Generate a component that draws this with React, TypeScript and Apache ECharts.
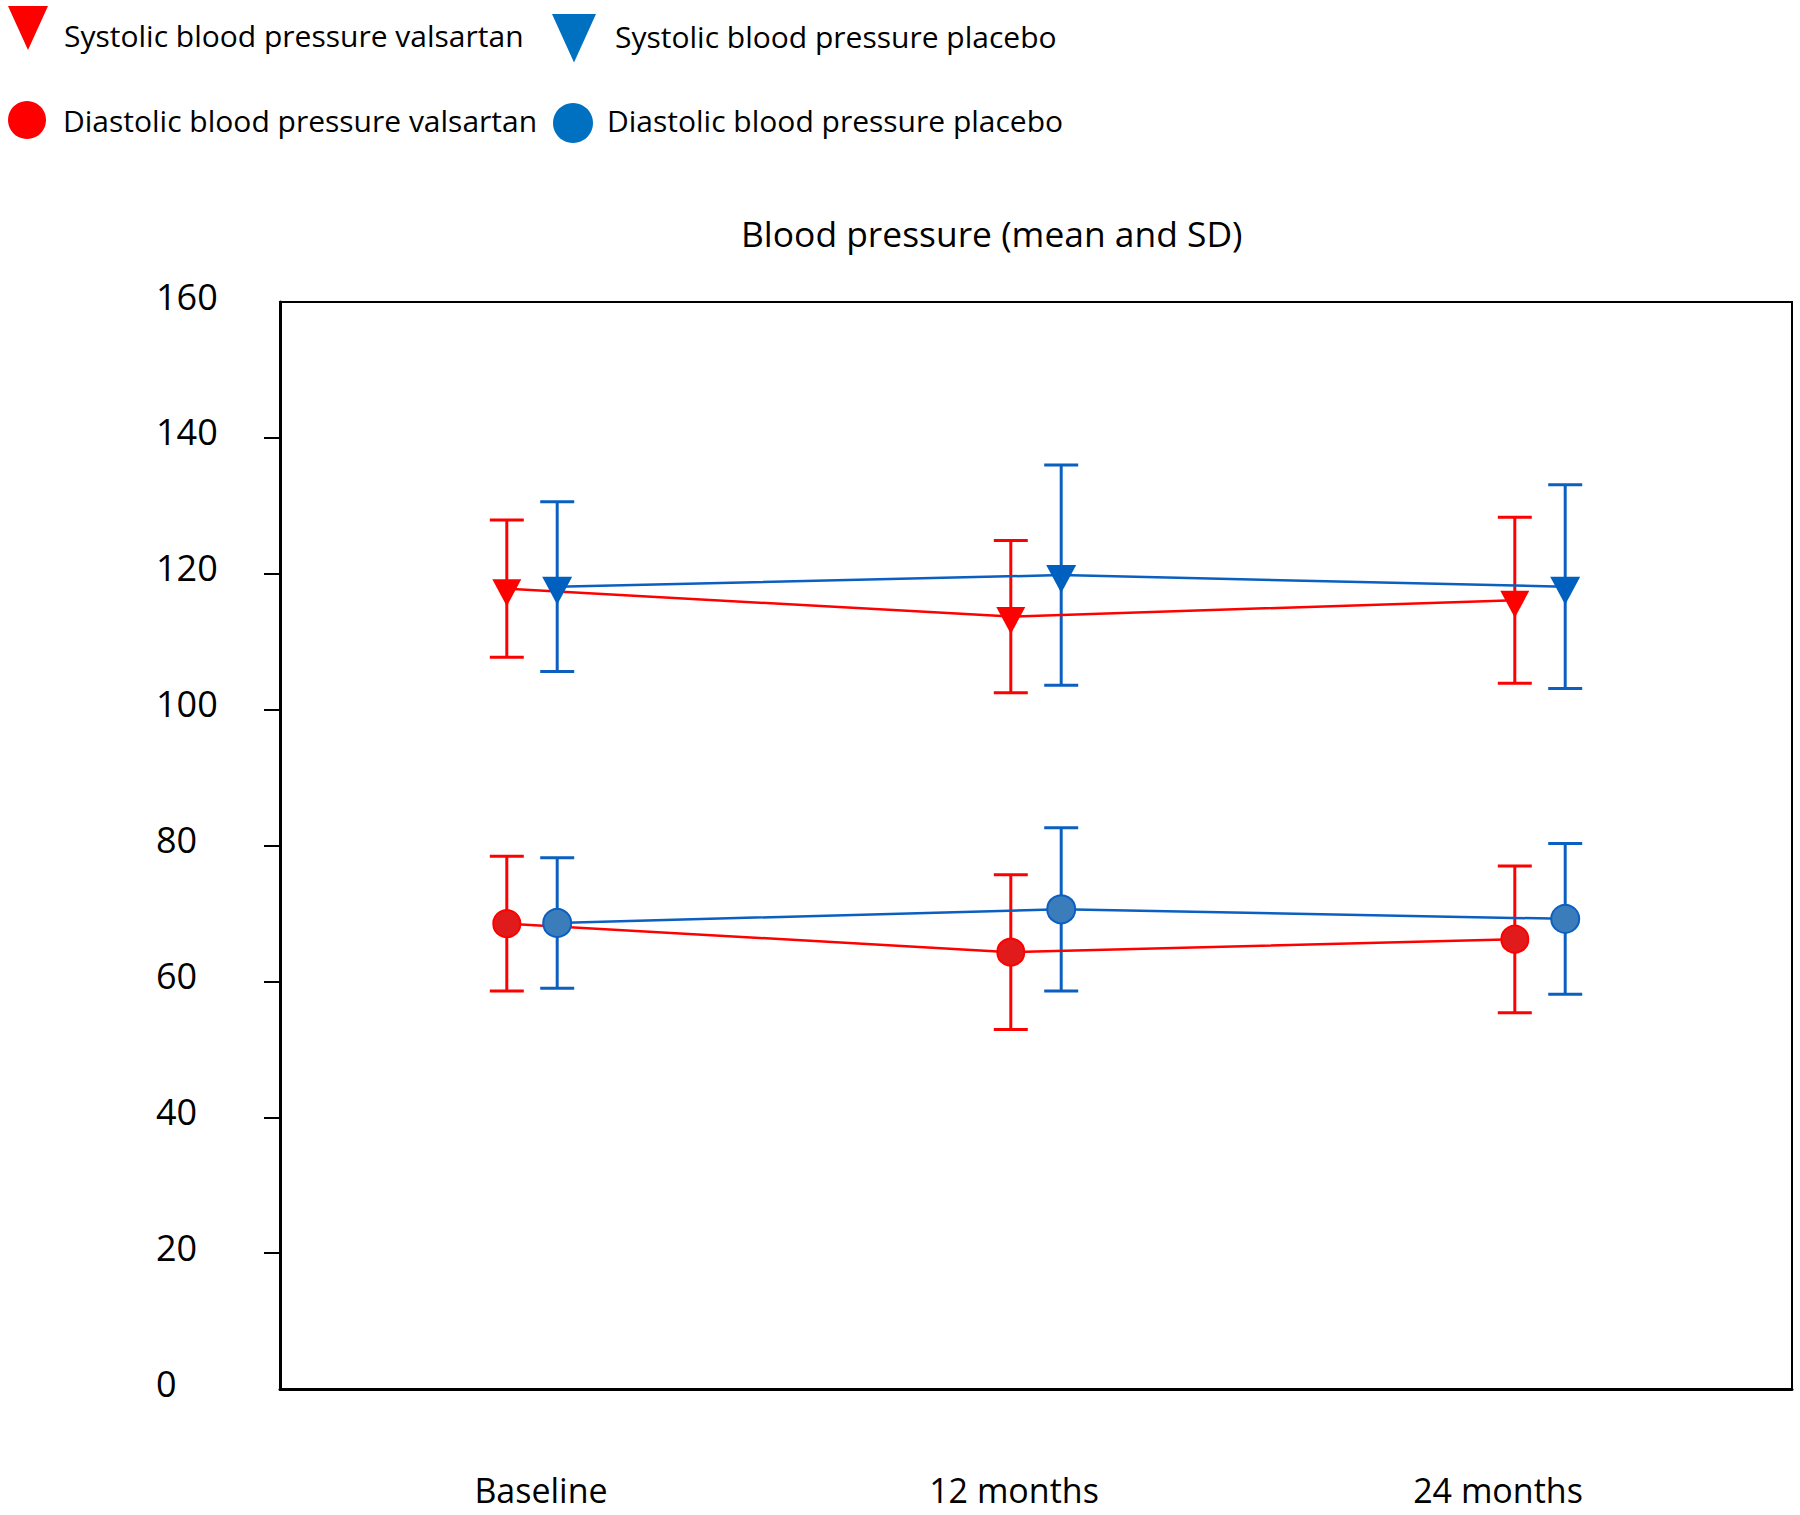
import React, { useEffect, useRef } from "react";
import * as echarts from "echarts";

const categories = ["Baseline", "12 months", "24 months"];
const yTicks = [0, 20, 40, 60, 80, 100, 120, 140, 160];

const sysValsartanMean = [117.8, 113.7, 116.1];
const sysValsartanSD = [10.1, 11.2, 12.2];
const sysPlaceboMean = [118.1, 119.8, 118.1];
const sysPlaceboSD = [12.5, 16.2, 15.0];
const diaValsartanMean = [68.5, 64.3, 66.2];
const diaValsartanSD = [9.9, 11.4, 10.8];
const diaPlaceboMean = [68.6, 70.6, 69.2];
const diaPlaceboSD = [9.6, 12.0, 11.1];

const NAMES = {
  sv: "Systolic blood pressure valsartan",
  sp: "Systolic blood pressure placebo",
  dv: "Diastolic blood pressure valsartan",
  dp: "Diastolic blood pressure placebo",
};

const RED = "#FF0000";
const BLUE = "#0A5FC0";
const FONT = "'Open Sans', 'Noto Sans', sans-serif";
const TRI = "path://M0,0 L20,0 L10,22 Z";
const GROUP_SHIFT = 0.05;

const xPos = (i: number, shift: number) => i + 0.5 + shift;
const pts = (means: number[], shift: number) => means.map((m, i) => [xPos(i, shift), m]);
const bars = (means: number[], sds: number[], shift: number) =>
  means.map((m, i) => [xPos(i, shift), m - sds[i], m + sds[i]]);

function errorSeries(name: string, data: number[][], color: string) {
  return {
    type: "custom",
    name: name,
    xAxisIndex: 0,
    yAxisIndex: 0,
    encode: { x: 0, y: [1, 2] },
    data,
    z: 2,
    renderItem: (params: any, api: any) => {
      const x = api.value(0);
      const lo = api.coord([x, api.value(1)]);
      const hi = api.coord([x, api.value(2)]);
      const hw = 17;
      const st = { stroke: color, lineWidth: 3 };
      return {
        type: "group",
        children: [
          { type: "line", shape: { x1: hi[0], y1: hi[1], x2: lo[0], y2: lo[1] }, style: st },
          { type: "line", shape: { x1: hi[0] - hw, y1: hi[1], x2: hi[0] + hw, y2: hi[1] }, style: st },
          { type: "line", shape: { x1: lo[0] - hw, y1: lo[1], x2: lo[0] + hw, y2: lo[1] }, style: st },
        ],
      };
    },
  };
}

function lineSeries(name: string, data: number[][], lineColor: string, symbol: string, size: any, fill: string, border: string, offset: number[]) {
  return {
    type: "line",
    name,
    xAxisIndex: 0,
    yAxisIndex: 0,
    data,
    z: 3,
    symbol,
    symbolSize: size,
    symbolOffset: offset,
    showSymbol: true,
    lineStyle: { color: lineColor, width: 2.5 },
    itemStyle: { color: fill, borderColor: border, borderWidth: symbol === "circle" ? 2 : 0, opacity: 1 },
  };
}

export default function App() {
  const ref = useRef<HTMLDivElement>(null);
  useEffect(() => {
    if (!ref.current) return;
    const chart = echarts.init(ref.current, undefined, { renderer: "svg" });
    const legendText = (pad: number[]) => ({
      fontFamily: FONT,
      fontSize: 30,
      color: "#000",
      rich: { a: { fontFamily: FONT, fontSize: 30, color: "#000", padding: pad } },
    });
    const fmt = (n: string) => `{a|${n}}`;
    chart.setOption({
      animation: false,
      backgroundColor: "#fff",
      title: {
        text: "Blood pressure (mean and SD)",
        left: 741,
        top: 215,
        padding: 0,
        textStyle: { fontFamily: FONT, fontSize: 35.4, fontWeight: "normal", color: "#000" },
      },
      legend: [
        {
          data: [{ name: NAMES.sv, icon: TRI, itemStyle: { color: RED } }],
          left: 8, top: 6, padding: 0, itemWidth: 40, itemHeight: 51, formatter: fmt,
          textStyle: legendText([14, 0, 0, 11]), selectedMode: false,
        },
        {
          data: [{ name: NAMES.sp, icon: TRI, itemStyle: { color: "#0070C0" } }],
          left: 552, top: 14, padding: 0, itemWidth: 44, itemHeight: 51, formatter: fmt,
          textStyle: legendText([0, 0, 4, 14]), selectedMode: false,
        },
        {
          data: [{ name: NAMES.dv, icon: "circle", itemStyle: { color: RED, borderWidth: 0 } }],
          left: 8, top: 101, padding: 0, itemWidth: 38, itemHeight: 39, formatter: fmt,
          textStyle: legendText([0, 0, 0, 12]), selectedMode: false,
        },
        {
          data: [{ name: NAMES.dp, icon: "circle", itemStyle: { color: "#0070C0", borderWidth: 0 } }],
          left: 553, top: 103, padding: 0, itemWidth: 40, itemHeight: 40, formatter: fmt,
          textStyle: legendText([0, 0, 6, 9]), selectedMode: false,
        },
      ],
      grid: {
        left: 280,
        right: 8,
        top: 302,
        bottom: 126,
        show: true,
        borderColor: "#000",
        borderWidth: 2,
        containLabel: false,
      },
      xAxis: [
        { type: "value", min: 0, max: 3, show: false },
        {
          type: "category",
          data: categories,
          position: "bottom",
          boundaryGap: true,
          axisLine: { show: true, lineStyle: { color: "#000", width: 3 } },
          axisTick: { show: false },
          splitLine: { show: false },
          axisLabel: {
            margin: 84,
            color: "#000",
            fontFamily: FONT,
            fontSize: 34,
            formatter: (v: string, i: number) => `{l${i}|${v}}`,
            rich: {
              l0: { fontFamily: FONT, fontSize: 34, color: "#000", padding: [0, 0, 0, 18] },
              l1: { fontFamily: FONT, fontSize: 34, color: "#000", padding: [0, 44, 0, 0] },
              l2: { fontFamily: FONT, fontSize: 34, color: "#000", padding: [0, 84, 0, 0] },
            },
          },
        },
      ],
      yAxis: {
        type: "value",
        min: yTicks[0],
        max: yTicks[yTicks.length - 1],
        interval: 20,
        axisLine: { show: true, lineStyle: { color: "#000", width: 3 } },
        axisTick: {
          show: true,
          length: 16,
          inside: false,
          customValues: yTicks.slice(1, -1),
          lineStyle: { color: "#000", width: 2 },
        },
        splitLine: { show: false },
        axisLabel: {
          margin: 124,
          align: "left",
          color: "#000",
          fontFamily: FONT,
          fontSize: 36,
          customValues: yTicks,
          formatter: (v: number) => `{y|${v}}`,
          rich: { y: { fontFamily: FONT, fontSize: 36, color: "#000", padding: [0, 0, 12, 0] } },
        },
      },
      series: [
        errorSeries("sv-err", bars(sysValsartanMean, sysValsartanSD, -GROUP_SHIFT), RED),
        errorSeries("sp-err", bars(sysPlaceboMean, sysPlaceboSD, GROUP_SHIFT), BLUE),
        errorSeries("dv-err", bars(diaValsartanMean, diaValsartanSD, -GROUP_SHIFT), RED),
        errorSeries("dp-err", bars(diaPlaceboMean, diaPlaceboSD, GROUP_SHIFT), BLUE),
        lineSeries(NAMES.sv, pts(sysValsartanMean, -GROUP_SHIFT), RED, TRI, [29, 27], RED, RED, [0, 4]),
        lineSeries(NAMES.sp, pts(sysPlaceboMean, GROUP_SHIFT), BLUE, TRI, [30, 28], "#0060C0", "#0060C0", [0, 4]),
        lineSeries(NAMES.dv, pts(diaValsartanMean, -GROUP_SHIFT), RED, "circle", 27, "#E11B1B", RED, [0, 0]),
        lineSeries(NAMES.dp, pts(diaPlaceboMean, GROUP_SHIFT), BLUE, "circle", 28, "#3A7DBA", BLUE, [0, 0]),
      ],
    });
    return () => chart.dispose();
  }, []);
  return (
    <div
      ref={ref}
      style={{ position: "absolute", left: 0, top: 0, width: 1800, height: 1515, background: "#fff" }}
    />
  );
}
